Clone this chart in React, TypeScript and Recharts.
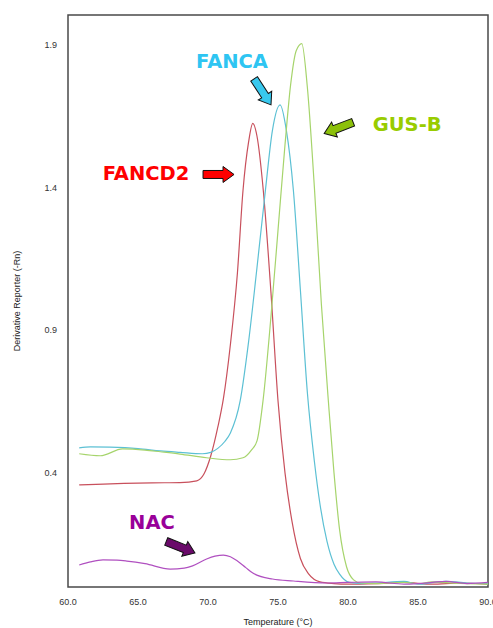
import { LineChart, Line, XAxis, YAxis, ReferenceArea, ReferenceDot } from "recharts";

// axis ticks
const TEMP_TICKS = [60, 65, 70, 75, 80, 85, 90];
const RN_TICKS = [0.4, 0.9, 1.4, 1.9];

// melt curves, temperature (°C) and -Rn'
const fancd2Temp = [60.8, 62, 64, 66, 68, 69.2, 69.7, 70.2, 70.7, 71.1, 71.6, 72.1, 72.5, 72.9, 73.2, 73.5, 73.95, 74.5, 75.0, 75.5, 76.0, 76.6, 77.2, 78.0, 79.0, 80, 82, 84, 86, 88, 90];
const fancd2Rn = [0.358, 0.36, 0.363, 0.365, 0.366, 0.372, 0.395, 0.46, 0.56, 0.66, 0.85, 1.1, 1.39, 1.56, 1.625, 1.58, 1.39, 1.03, 0.653, 0.4, 0.23, 0.1, 0.045, 0.018, 0.012, 0.01, 0.012, 0.016, 0.01, 0.014, 0.01];

const fancaTemp = [60.8, 61.6, 63, 65, 66.6, 68, 69.6, 70.2, 70.7, 71.2, 71.6, 72.3, 72.9, 73.5, 74.1, 74.6, 75.15, 75.6, 76.1, 76.6, 77.1, 77.6, 78.0, 78.5, 79.0, 79.4, 80.1, 81, 82, 84, 85, 86, 87, 88.5, 90];
const fancaRn = [0.488, 0.491, 0.49, 0.485, 0.477, 0.472, 0.467, 0.472, 0.486, 0.51, 0.54, 0.653, 0.86, 1.12, 1.39, 1.6, 1.69, 1.6, 1.39, 1.04, 0.68, 0.44, 0.29, 0.16, 0.08, 0.045, 0.016, 0.012, 0.014, 0.02, 0.01, 0.015, 0.02, 0.014, 0.012];

const gusbTemp = [60.8, 62.3, 63.9, 65.5, 66.6, 68, 69.9, 71.6, 72.5, 73.1, 73.5, 73.93, 74.5, 75.0, 75.5, 75.9, 76.3, 76.7, 77.1, 77.6, 78.1, 78.6, 79.0, 79.4, 79.9, 80.4, 80.9, 82, 84, 85, 86, 87, 88.5, 90];
const gusbRn = [0.467, 0.46, 0.484, 0.48, 0.474, 0.466, 0.453, 0.446, 0.453, 0.48, 0.512, 0.653, 0.95, 1.25, 1.55, 1.76, 1.88, 1.905, 1.75, 1.4, 0.99, 0.65, 0.4, 0.2, 0.07, 0.025, 0.014, 0.012, 0.016, 0.012, 0.018, 0.015, 0.012, 0.01];

const nacTemp = [60.8, 61.6, 62.5, 63.5, 64.2, 65.5, 67.3, 68.3, 68.9, 69.9, 70.5, 71.1, 71.6, 72.1, 72.7, 73.2, 74.6, 76.1, 78.5, 80, 82, 84, 85, 86, 87, 88.5, 90];
const nacRn = [0.077, 0.088, 0.095, 0.094, 0.091, 0.082, 0.063, 0.066, 0.074, 0.098, 0.108, 0.112, 0.106, 0.091, 0.068, 0.049, 0.028, 0.021, 0.014, 0.016, 0.018, 0.01, 0.012, 0.016, 0.02, 0.012, 0.016];

const toPoints = (temps: number[], values: number[]) =>
  temps.map((t, i) => ({ t, rn: values[i] }));

const series = [
  { name: "FANCD2", data: toPoints(fancd2Temp, fancd2Rn), color: "#c8505c" },
  { name: "FANCA", data: toPoints(fancaTemp, fancaRn), color: "#5cc0d4" },
  { name: "GUS-B", data: toPoints(gusbTemp, gusbRn), color: "#a6d46c" },
  { name: "NAC", data: toPoints(nacTemp, nacRn), color: "#b050c0" },
];

// arrow tip placed in data space, label offset in px from the tip
const callouts = [
  { text: "FANCA", color: "#2ec5f2", fill: "#38c8ee", t: 74.5, rn: 1.69, angle: 57, dx: -39, dy: -43 },
  { text: "GUS-B", color: "#99cc00", fill: "#8cc00a", t: 78.3, rn: 1.59, angle: 159, dx: 83, dy: -9 },
  { text: "FANCD2", color: "#ff0000", fill: "#ff0000", t: 71.86, rn: 1.446, angle: 0, dx: -88, dy: -1 },
  { text: "NAC", color: "#990099", fill: "#6a0a6a", t: 69.07, rn: 0.119, angle: 22, dx: -43, dy: -31 },
];

const Y_MAX = 2.005;
const axisFont = { fontSize: 9, fill: "#333", fontFamily: "Liberation Sans, Arial, sans-serif" };

function Callout(props: any) {
  const { cx, cy, c } = props;
  const L = 31;
  const H = 11;
  const pts = `0,0 ${-H},-8 ${-H},-4 ${-L},-4 ${-L},4 ${-H},4 ${-H},8`;
  return (
    <g>
      <polygon
        points={pts}
        transform={`translate(${cx},${cy}) rotate(${c.angle})`}
        fill={c.fill}
        stroke="#111"
        strokeWidth={1}
      />
      <text
        x={cx + c.dx}
        y={cy + c.dy}
        textAnchor="middle"
        dominantBaseline="central"
        fill={c.color}
        fontFamily="DejaVu Sans, Verdana, sans-serif"
        fontWeight="bold"
        fontSize={19.5}
      >
        {c.text}
      </text>
    </g>
  );
}

const XTitle = ({ viewBox }: any) => (
  <text
    x={viewBox.x + viewBox.width / 2}
    y={viewBox.y + viewBox.height - 3}
    textAnchor="middle"
    {...axisFont}
    fill="#222"
  >
    Temperature (°C)
  </text>
);

const YTitle = ({ viewBox }: any) => {
  const x = 17;
  const y = viewBox.y + viewBox.height / 2;
  return (
    <text
      x={x}
      y={y}
      transform={`rotate(-90, ${x}, ${y})`}
      textAnchor="middle"
      dominantBaseline="central"
      {...axisFont}
      fill="#222"
    >
      Derivative Reporter (-Rn)
    </text>
  );
};

export default function App() {
  return (
    <div style={{ position: "absolute", left: 0, top: 0, background: "#fff" }}>
      <LineChart width={493} height={628} margin={{ top: 15, right: 5, bottom: 0, left: 0 }}>
        <XAxis
          type="number"
          dataKey="t"
          domain={[60, 90]}
          ticks={TEMP_TICKS}
          tickFormatter={(v: number) => v.toFixed(1)}
          axisLine={false}
          tickLine={false}
          tickMargin={6}
          height={41}
          tick={axisFont}
          interval={0}
          label={<XTitle />}
        />
        <YAxis
          type="number"
          dataKey="rn"
          domain={[0, Y_MAX]}
          ticks={RN_TICKS}
          tickFormatter={(v: number) => v.toFixed(1)}
          axisLine={false}
          tickLine={false}
          tickMargin={5}
          width={68}
          tick={axisFont}
          interval={0}
          label={<YTitle />}
        />
        <ReferenceArea x1={60} x2={90} y1={0} y2={Y_MAX} fill="none" stroke="#4a4a4a" strokeWidth={1.5} />
        {series.map((s) => (
          <Line
            key={s.name}
            data={s.data}
            dataKey="rn"
            type="monotone"
            stroke={s.color}
            strokeWidth={1.2}
            dot={false}
            activeDot={false}
            isAnimationActive={false}
          />
        ))}
        {callouts.map((c) => (
          <ReferenceDot
            key={c.text}
            x={c.t}
            y={c.rn}
            r={0}
            shape={(p: any) => <Callout {...p} c={c} />}
          />
        ))}
      </LineChart>
    </div>
  );
}
